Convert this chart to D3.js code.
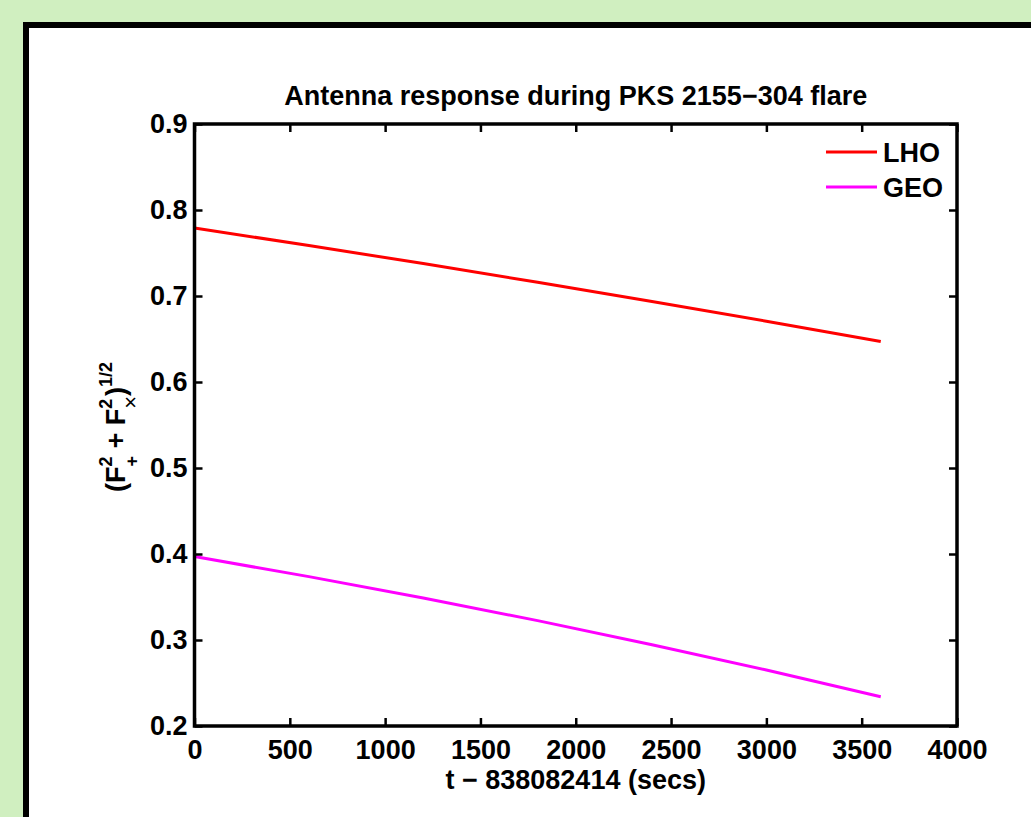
<!DOCTYPE html>
<html>
<head>
<meta charset="utf-8">
<script src="https://cdn.jsdelivr.net/npm/d3@7/dist/d3.min.js"></script>
<style>
  html, body { margin: 0; padding: 0; background: #d0efc0; }
  svg { display: block; }
  text { font-family: "Liberation Sans", Arial, Helvetica, sans-serif; font-weight: bold; fill: #000; }
</style>
</head>
<body>
<svg id="chart" width="1031" height="817"></svg>
<script>
// Sample times (seconds after GPS 838082414)
const times = [0, 600, 1200, 1800, 2400, 3000, 3600];
// Combined antenna response sqrt(F+^2 + Fx^2) for each detector
const lhoValues = [0.779, 0.7587, 0.7377, 0.716, 0.6937, 0.6707, 0.647];
const geoValues = [0.397, 0.3737, 0.3489, 0.3225, 0.2945, 0.2651, 0.234];
const seriesNames = ["LHO", "GEO"];
const seriesColors = ["#ff0000", "#ff00ff"];
const xTicks = [0, 500, 1000, 1500, 2000, 2500, 3000, 3500, 4000];
const yTicks = [0.2, 0.3, 0.4, 0.5, 0.6, 0.7, 0.8, 0.9];

const svg = d3.select("#chart");

// white figure panel with a heavy black frame
svg.append("rect")
  .attr("x", 26).attr("y", 25)
  .attr("width", 1100).attr("height", 900)
  .attr("fill", "#fff").attr("stroke", "#000").attr("stroke-width", 6);

const plotL = 194.5, plotR = 957, plotT = 124, plotB = 726;
const x = d3.scaleLinear().domain([0, 4000]).range([plotL, plotR]);
const y = d3.scaleLinear().domain([0.2, 0.9]).range([plotB, plotT]);

const fs = 27, tickLen = 8;

// data lines
const line = d3.line().x((d, i) => x(times[i])).y(d => y(d));
[lhoValues, geoValues].forEach((vals, k) => {
  svg.append("path").datum(vals)
    .attr("d", line)
    .attr("fill", "none")
    .attr("stroke", seriesColors[k])
    .attr("stroke-width", 3);
});

// axes: ticks point inward on all four sides
const axisStyle = g => {
  g.select(".domain").remove();
  g.selectAll(".tick line").attr("stroke", "#000").attr("stroke-width", 2.5);
  g.selectAll(".tick text").style("font-size", fs + "px");
};

svg.append("g").attr("transform", `translate(0,${plotB})`)
  .call(d3.axisBottom(x).tickValues(xTicks).tickSize(-tickLen).tickPadding(14).tickFormat(d3.format("d")))
  .call(axisStyle)
  .call(g => g.selectAll(".tick text").attr("dy", "0.71em"));

svg.append("g").attr("transform", `translate(0,${plotT})`)
  .call(d3.axisTop(x).tickValues(xTicks).tickSize(-tickLen).tickFormat(""))
  .call(axisStyle);

svg.append("g").attr("transform", `translate(${plotL},0)`)
  .call(d3.axisLeft(y).tickValues(yTicks).tickSize(-tickLen).tickPadding(7).tickFormat(d3.format(".1f")))
  .call(axisStyle);

svg.append("g").attr("transform", `translate(${plotR},0)`)
  .call(d3.axisRight(y).tickValues(yTicks).tickSize(-tickLen).tickFormat(""))
  .call(axisStyle);

// plot box
svg.append("rect")
  .attr("x", plotL).attr("y", plotT)
  .attr("width", plotR - plotL).attr("height", plotB - plotT)
  .attr("fill", "none").attr("stroke", "#000").attr("stroke-width", 3.5);

// title
svg.append("text")
  .attr("x", (plotL + plotR) / 2).attr("y", 105)
  .attr("text-anchor", "middle")
  .style("font-size", "27px")
  .text("Antenna response during PKS 2155\u2212304 flare");

// x label
svg.append("text")
  .attr("x", (plotL + plotR) / 2).attr("y", 789)
  .attr("text-anchor", "middle")
  .style("font-size", fs + "px")
  .text("t \u2212 838082414 (secs)");

// y label with stacked super/subscripts
const yl = svg.append("text")
  .attr("transform", "translate(125,427) rotate(-90)")
  .attr("text-anchor", "middle")
  .style("font-size", fs + "px");
yl.append("tspan").text("(F");
yl.append("tspan").attr("dy", -13).style("font-size", "18px").text("2");
yl.append("tspan").attr("dy", 26).attr("dx", -10).style("font-size", "18px").text("+");
yl.append("tspan").attr("dy", -13).text(" + F");
yl.append("tspan").attr("dy", -13).style("font-size", "18px").text("2");
yl.append("tspan").attr("dy", 26).attr("dx", -10).style("font-size", "22px").style("font-weight", "normal").text("\u00d7");
yl.append("tspan").attr("dy", -13).text(")");
yl.append("tspan").attr("dy", -13).style("font-size", "18px").text("1/2");

// legend
const legend = svg.append("g");
seriesNames.forEach((name, k) => {
  const ly = 152 + k * 35;
  legend.append("line")
    .attr("x1", 826).attr("x2", 877).attr("y1", ly).attr("y2", ly)
    .attr("stroke", seriesColors[k]).attr("stroke-width", 3);
  legend.append("text")
    .attr("x", 883).attr("y", ly).attr("dy", "0.36em")
    .style("font-size", fs + "px")
    .text(name);
});
</script>
</body>
</html>
